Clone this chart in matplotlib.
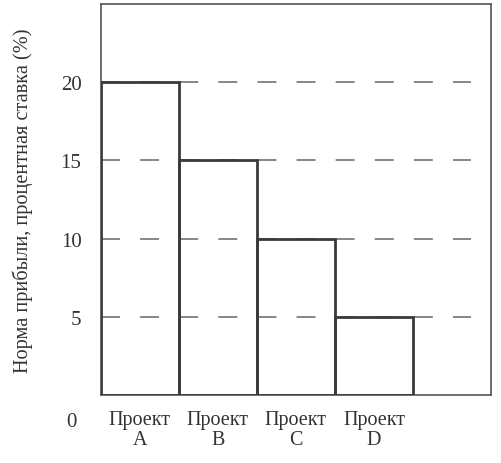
import matplotlib.pyplot as plt

projects = ["Проект\nA", "Проект\nB", "Проект\nC", "Проект\nD"]
rates = [20, 15, 10, 5]
y_ticks = [5, 10, 15, 20]

plt.rcParams['font.family'] = ['Liberation Serif', 'DejaVu Serif']

fig = plt.figure(figsize=(5.02, 4.64), dpi=100)
ax = fig.add_axes([0.201, 0.147, 0.777, 0.842])

pos = list(range(len(projects)))
# white fill first, dashed guides over it, outlines on top
ax.bar(pos, rates, width=1, align="edge", facecolor="white", edgecolor="none", zorder=1)
for v in y_ticks:
    ax.plot([0, 4.74], [v, v], color="#666666", lw=1.1, ls=(0, (12.4, 13.2)), zorder=2)
ax.bar(pos, rates, width=1, align="edge", facecolor="none",
       edgecolor="#3a3a3a", linewidth=2, zorder=3)

ax.set_xlim(0, 5)
ax.set_ylim(0, 25)
ax.set_yticks(y_ticks)
ax.set_yticklabels([str(v) for v in y_ticks], fontsize=15, color="#333333")
ax.set_xticks([p + 0.5 for p in pos])
ax.set_xticklabels(projects, fontsize=14.5, color="#333333", linespacing=1.1)
ax.tick_params(length=0, pad=14, axis="y")
ax.tick_params(length=0, pad=11, axis="x")
for s in ax.spines.values():
    s.set_color("#555555")
    s.set_linewidth(1.2)

ax.text(-0.38, -1.1, "0", transform=ax.transData,
        fontsize=15, color="#333333", ha="center", va="top")
ax.set_ylabel("Норма прибыли, процентная ставка (%)", fontsize=14.6, color="#333333", labelpad=20)

fig.savefig("out.png", dpi=100)
